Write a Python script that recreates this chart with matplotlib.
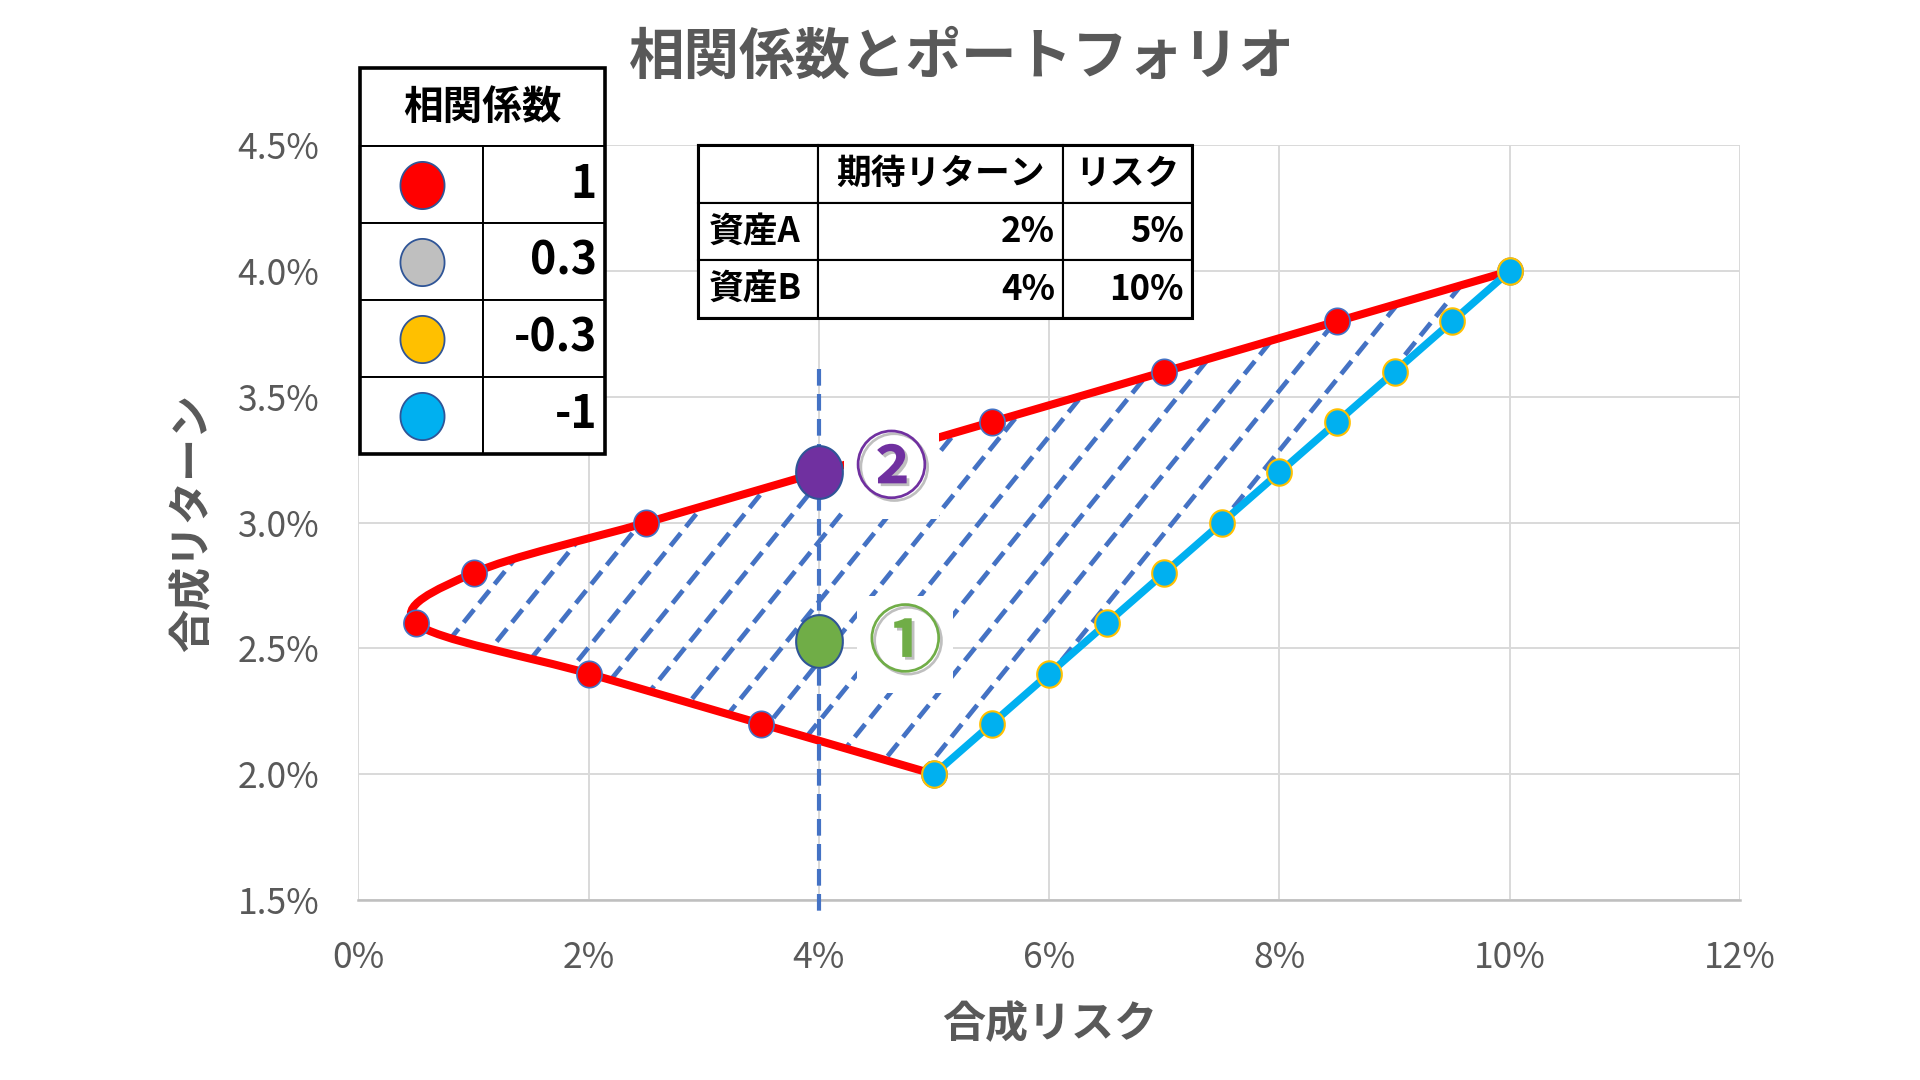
import matplotlib
matplotlib.use('Agg')
import matplotlib.pyplot as plt
import matplotlib.patheffects as pe
import numpy as np
from matplotlib.path import Path
from matplotlib.patches import PathPatch, Rectangle

plt.rcParams['font.family'] = ['Noto Sans CJK JP', 'DejaVu Sans']

GRAY_TEXT = '#595959'
DASH_BLUE = '#4472C4'
EDGE_NAVY = '#2F5597'

# 資産Bの比率 0% -> 100% (10%刻み) の合成リスク / 合成リターン
red_risk = [5.0, 3.5, 2.0, 0.5, 1.0, 2.5, 4.0, 5.5, 7.0, 8.5, 10.0]
red_return = [2.0, 2.2, 2.4, 2.6, 2.8, 3.0, 3.2, 3.4, 3.6, 3.8, 4.0]
blue_risk = [5.0, 5.5, 6.0, 6.5, 7.0, 7.5, 8.0, 8.5, 9.0, 9.5, 10.0]
blue_return = [2.0, 2.2, 2.4, 2.6, 2.8, 3.0, 3.2, 3.4, 3.6, 3.8, 4.0]

# リスク4%のポートフォリオ
point1 = (4.0, 2.53)
point2 = (4.0, 3.2)
vline_x = 4.0
vline_top = 3.61
vline_bottom = 1.43

# 斜線 (リターン2.0%の位置のリスク, 傾き)
hatch_x0 = [-0.15, 0.27, 0.69, 1.11, 1.53, 1.95, 2.37, 2.79, 3.21, 3.63, 4.05, 4.47,
            4.89, 5.31, 5.73, 6.15]
hatch_slope = 0.567

x_ticks = [0, 2, 4, 6, 8, 10, 12]
y_ticks = [1.5, 2.0, 2.5, 3.0, 3.5, 4.0, 4.5]

legend_corr = ['1', '0.3', '-0.3', '-1']
legend_colors = ['#FF0000', '#BFBFBF', '#FFC000', '#00B0F0']

asset_cols = ['期待リターン', 'リスク']
asset_rows = ['資産A', '資産B']
asset_values = [['2%', '5%'], ['4%', '10%']]


def smooth_path(xs, ys):
    # Excel風のなめらかな線 (Catmull-Rom -> ベジェ)
    pts = np.column_stack([xs, ys])
    ext = np.vstack([pts[0], pts, pts[-1]])
    verts = [pts[0]]
    codes = [Path.MOVETO]
    for i in range(len(pts) - 1):
        p0, p1, p2, p3 = ext[i], ext[i + 1], ext[i + 2], ext[i + 3]
        verts += [p1 + (p2 - p0) / 6, p2 - (p3 - p1) / 6, p2]
        codes += [Path.CURVE4] * 3
    return np.array(verts), codes


def oval(ratio):
    t = np.linspace(0, 2 * np.pi, 80)
    return Path(np.column_stack([np.cos(t), ratio * np.sin(t)]))


fig = plt.figure(figsize=(19.2, 10.8), dpi=100, facecolor='white')
ax = fig.add_axes([358.4 / 1920, 1 - 900 / 1080, 1381.6 / 1920, 754.7 / 1080])

ax.set_xlim(0, 12)
ax.set_ylim(1.5, 4.5)
ax.set_xticks(x_ticks)
ax.set_yticks(y_ticks)
ax.set_xticklabels([f'{v}%' for v in x_ticks])
ax.set_yticklabels([f'{v:.1f}%' for v in y_ticks])
ax.tick_params(length=0, labelsize=25.5, labelcolor=GRAY_TEXT)
ax.tick_params(axis='x', pad=29)
ax.tick_params(axis='y', pad=28)
ax.grid(color='#D9D9D9', lw=1.4)
ax.set_axisbelow(True)
for side in ['top', 'right', 'left']:
    ax.spines[side].set_visible(False)
ax.spines['bottom'].set_color('#BFBFBF')
ax.spines['bottom'].set_linewidth(1.8)

ax.set_xlabel('合成リスク', fontsize=31, fontweight='bold', color=GRAY_TEXT)
ax.xaxis.set_label_coords(0.5, -0.136)
ax.set_ylabel('合成リターン', fontsize=31, fontweight='bold', color=GRAY_TEXT, va='center')
ax.yaxis.set_label_coords(-0.12, 0.5)

# 領域 (斜線のクリップ用)
red_verts, red_codes = smooth_path(red_risk, red_return)
poly_verts = np.vstack([red_verts, np.column_stack([blue_risk, blue_return])[::-1][1:], red_verts[:1]])
poly_codes = red_codes + [Path.LINETO] * (len(blue_risk) - 1) + [Path.CLOSEPOLY]
clip_patch = PathPatch(Path(poly_verts, poly_codes), transform=ax.transData,
                       facecolor='none', edgecolor='none')
ax.add_patch(clip_patch)

for x0 in hatch_x0:
    xs = np.array([x0 - 3, x0 + 7])
    ys = 2.0 + hatch_slope * (xs - x0)
    line, = ax.plot(xs, ys, color=DASH_BLUE, lw=3.4, linestyle=(0, (3.5, 1.7)), zorder=2)
    line.set_clip_path(clip_patch)

# 曲線と直線
ax.add_patch(PathPatch(Path(red_verts, red_codes), facecolor='none', edgecolor='#FF0000',
                       lw=5.8, capstyle='round', zorder=3))
ax.plot(blue_risk, blue_return, color='#00B0F0', lw=5.4, solid_capstyle='round', zorder=3)

ax.plot([vline_x, vline_x], [vline_top, vline_bottom], color=DASH_BLUE, lw=3.0,
        linestyle=(0, (4, 2)), clip_on=False, zorder=4)

ax.plot(red_risk, red_return, linestyle='none', marker=oval(1.05), ms=19, mfc='#FF0000',
        mec=DASH_BLUE, mew=1.2, zorder=6)
ax.plot(blue_risk, blue_return, linestyle='none', marker=oval(1.07), ms=19, mfc='#00B0F0',
        mec='#FFC000', mew=1.5, zorder=6)

ax.plot(*point2, marker=oval(1.13), ms=38, mfc='#7030A0', mec=EDGE_NAVY, mew=1.5, zorder=7)
ax.plot(*point1, marker=oval(1.13), ms=38, mfc='#70AD47', mec=EDGE_NAVY, mew=1.5, zorder=7)

shadow = [pe.SimplePatchShadow(offset=(2, -2), shadow_rgbFace='black', alpha=0.25), pe.Normal()]
ax.text(4.63, 3.205, '②', fontsize=53, fontweight='bold', color='#7030A0', ha='center',
        va='center', zorder=5, path_effects=shadow,
        bbox=dict(boxstyle='square,pad=0.15', facecolor='white', edgecolor='none'))
ax.text(4.75, 2.515, '①', fontsize=53, fontweight='bold', color='#70AD47', ha='center',
        va='center', zorder=5, path_effects=shadow,
        bbox=dict(boxstyle='square,pad=0.15', facecolor='white', edgecolor='none'))

fig.text(962 / 1920, 1 - 58 / 1080, '相関係数とポートフォリオ', fontsize=40, fontweight='bold',
         color=GRAY_TEXT, ha='center', va='center')

# 凡例の表 (相関係数)
lg = fig.add_axes([360 / 1920, 1 - 454 / 1080, 245 / 1920, 386 / 1080])
lg.set_xlim(0, 1)
lg.set_ylim(0, 1)
lg.axis('off')
head_h, row_h = 78, 77
total_h = head_h + row_h * len(legend_corr)
col_w = [123 / 245, 122 / 245]
tab = lg.table(cellText=[['', '']] + [['', c] for c in legend_corr], colWidths=col_w,
               cellLoc='right', bbox=[0, 0, 1, 1])
tab.auto_set_font_size(False)
for (r, c), cell in tab.get_celld().items():
    cell.set_height((head_h if r == 0 else row_h) / total_h)
    cell.set_linewidth(1.4)
    cell.PAD = 0.066
    cell.get_text().set_fontsize(32)
    cell.get_text().set_fontweight('bold')
tab[0, 0].visible_edges = 'BLT'
tab[0, 1].visible_edges = 'BRT'
lg.add_patch(Rectangle((0, 0), 1, 1, transform=lg.transAxes, fill=False, lw=2.6,
                       edgecolor='black', clip_on=False, zorder=5))
lg.text(0.5, 1 - head_h / 2 / total_h, '相関係数', fontsize=28.5, fontweight='bold',
        ha='center', va='center', zorder=6)
for i, color in enumerate(legend_colors):
    yc = 1 - (head_h + row_h * (i + 0.5)) / total_h
    lg.plot(col_w[0] / 2, yc, marker=oval(1.07), ms=34, mfc=color, mec=EDGE_NAVY,
            mew=1.3, zorder=6, clip_on=False)

# 資産の表
at = fig.add_axes([698 / 1920, 1 - 318 / 1080, 494 / 1920, 173 / 1080])
at.axis('off')
cells = [[''] + asset_cols] + [[name] + vals for name, vals in zip(asset_rows, asset_values)]
widths = [120, 245, 129]
tab2 = at.table(cellText=cells, colWidths=[w / sum(widths) for w in widths],
                cellLoc='right', bbox=[0, 0, 1, 1])
tab2.auto_set_font_size(False)
for (r, c), cell in tab2.get_celld().items():
    cell.set_linewidth(1.5)
    cell.get_text().set_fontsize(25)
    cell.get_text().set_fontweight('bold')
    if r == 0:
        cell.get_text().set_ha('center')
    elif c == 0:
        cell.get_text().set_ha('left')
        cell.PAD = 0.09
    else:
        cell.PAD = 8 / widths[c]
    cell._loc = cell.get_text().get_ha()
at.add_patch(Rectangle((0, 0), 1, 1, transform=at.transAxes, fill=False, lw=2.2,
                       edgecolor='black', clip_on=False, zorder=5))

fig.savefig('out.png', dpi=100, facecolor='white')
